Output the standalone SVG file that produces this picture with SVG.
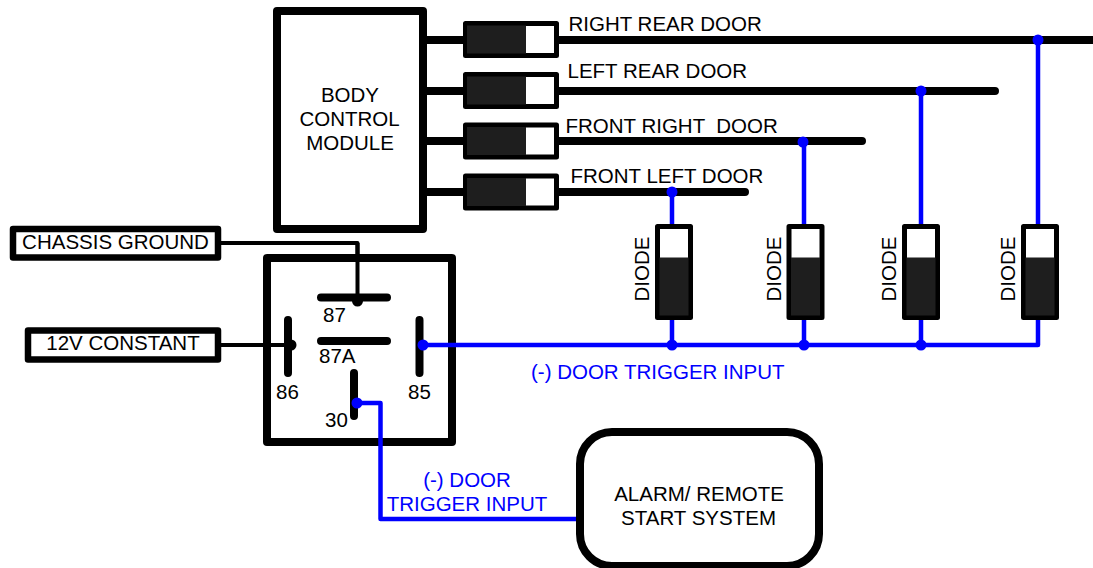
<svg xmlns="http://www.w3.org/2000/svg" width="1093" height="568" viewBox="0 0 1093 568">
<style>
text{font-family:"Liberation Sans",Arial,sans-serif;font-size:20.5px;fill:#000}
.m{text-anchor:middle}
.b{fill:#0000ff}
.box{fill:#fff;stroke:#000;stroke-width:8;stroke-linejoin:round}
.lab{fill:#fff;stroke:#000;stroke-width:6.5;stroke-linejoin:round}
.w{fill:none;stroke:#000;stroke-width:8;stroke-linecap:round}
.thin{fill:none;stroke:#000;stroke-width:4;stroke-linejoin:round}
.bl{fill:none;stroke:#0000ff;stroke-width:4.5;stroke-linejoin:round}
.case{fill:#fff;stroke:#000;stroke-width:5;stroke-linejoin:round}
.dark{fill:#1e1e1e}
.dot{fill:#0000ff}
</style>
<defs>
<g id="hfuse"><rect class="case" x="465.500" y="0" width="91" height="32"/><rect class="dark" x="467" y="2" width="59" height="28"/></g>
<g id="vdiode"><rect class="case" x="-16" y="0" width="33" height="91"/><rect class="dark" x="-14" y="31" width="29" height="58"/></g>
</defs>
<g id="connectors">
<path class="w" d="M427 40H1093M427 91H995M427 141H862M427 192H745"/>
<path class="thin" d="M221 243H357.500V298"/>
<path class="thin" d="M221 345H290"/>
<path class="bl" d="M1038 40V345H423M921 91V345M804 141V345M672 192V345"/>
<path class="bl" d="M357 403H380.500V519H578"/>
</g>
<g id="body-control-module"><rect class="box" x="277" y="11" width="146" height="218"/>
<text class="m" x="350" y="102">BODY</text><text class="m" x="349.500" y="126">CONTROL</text><text class="m" x="350" y="150">MODULE</text></g>
<g id="fuse-right-rear"><use href="#hfuse" y="23.500"/><text x="568.500" y="31">RIGHT REAR DOOR</text></g>
<g id="fuse-left-rear"><use href="#hfuse" y="74.500"/><text x="567.500" y="78">LEFT REAR DOOR</text></g>
<g id="fuse-front-right"><use href="#hfuse" y="125"/><text x="565.500" y="133" xml:space="preserve">FRONT RIGHT  DOOR</text></g>
<g id="fuse-front-left"><use href="#hfuse" y="176"/><text x="570.500" y="183">FRONT LEFT DOOR</text></g>
<g id="diode-1"><use href="#vdiode" x="673.500" y="226.500"/><text class="m" transform="translate(649 269) rotate(-90)">DIODE</text></g>
<g id="diode-2"><use href="#vdiode" x="805" y="226.500"/><text class="m" transform="translate(781 269) rotate(-90)">DIODE</text></g>
<g id="diode-3"><use href="#vdiode" x="920.500" y="226.500"/><text class="m" transform="translate(896 269) rotate(-90)">DIODE</text></g>
<g id="diode-4"><use href="#vdiode" x="1039.500" y="226.500"/><text class="m" transform="translate(1015 269) rotate(-90)">DIODE</text></g>
<g id="dots">
<circle class="dot" cx="1038" cy="40" r="5.500"/><circle class="dot" cx="921" cy="91" r="5.500"/><circle class="dot" cx="803" cy="142" r="5.500"/><circle class="dot" cx="672" cy="192" r="5.500"/>
<circle class="dot" cx="672" cy="345" r="5.500"/><circle class="dot" cx="804" cy="345" r="5.500"/><circle class="dot" cx="921" cy="345" r="5.500"/>
</g>
<g id="chassis-ground"><rect class="lab" x="13" y="229" width="205" height="28.500"/><text class="m" x="115.500" y="249">CHASSIS GROUND</text></g>
<g id="constant-12v"><rect class="lab" x="28" y="330.500" width="190" height="29"/><text class="m" x="123" y="350">12V CONSTANT</text></g>
<g id="relay"><rect class="box" x="267" y="258" width="185" height="184" fill="none"/>
<path class="w" d="M321 297.500H387M321 341H387M288 320V373M419.500 320V373M354 373V416"/>
<path class="thin" d="M357.500 243V298"/>
<path class="thin" d="M221 345H290"/>
<circle cx="357.500" cy="301" r="5.500"/><circle cx="291" cy="345" r="5.500"/>
<circle class="dot" cx="423" cy="345" r="5.500"/><circle class="dot" cx="357" cy="403" r="5.500"/>
<path class="bl" d="M423 345H456M357 403H380.500V446"/>
<text x="323" y="322">87</text><text x="319" y="363">87A</text><text x="276" y="399">86</text><text x="408" y="399">85</text><text x="325" y="427">30</text></g>
<g id="alarm"><rect class="box" x="580" y="432" width="239" height="134" rx="32"/>
<text class="m" x="699" y="501">ALARM/ REMOTE</text><text class="m" x="698.500" y="525">START SYSTEM</text></g>
<g id="labels"><text class="b" x="531" y="379">(-) DOOR TRIGGER INPUT</text>
<text class="b m" x="467" y="487">(-) DOOR</text><text class="b m" x="467" y="511">TRIGGER INPUT</text></g>
</svg>
